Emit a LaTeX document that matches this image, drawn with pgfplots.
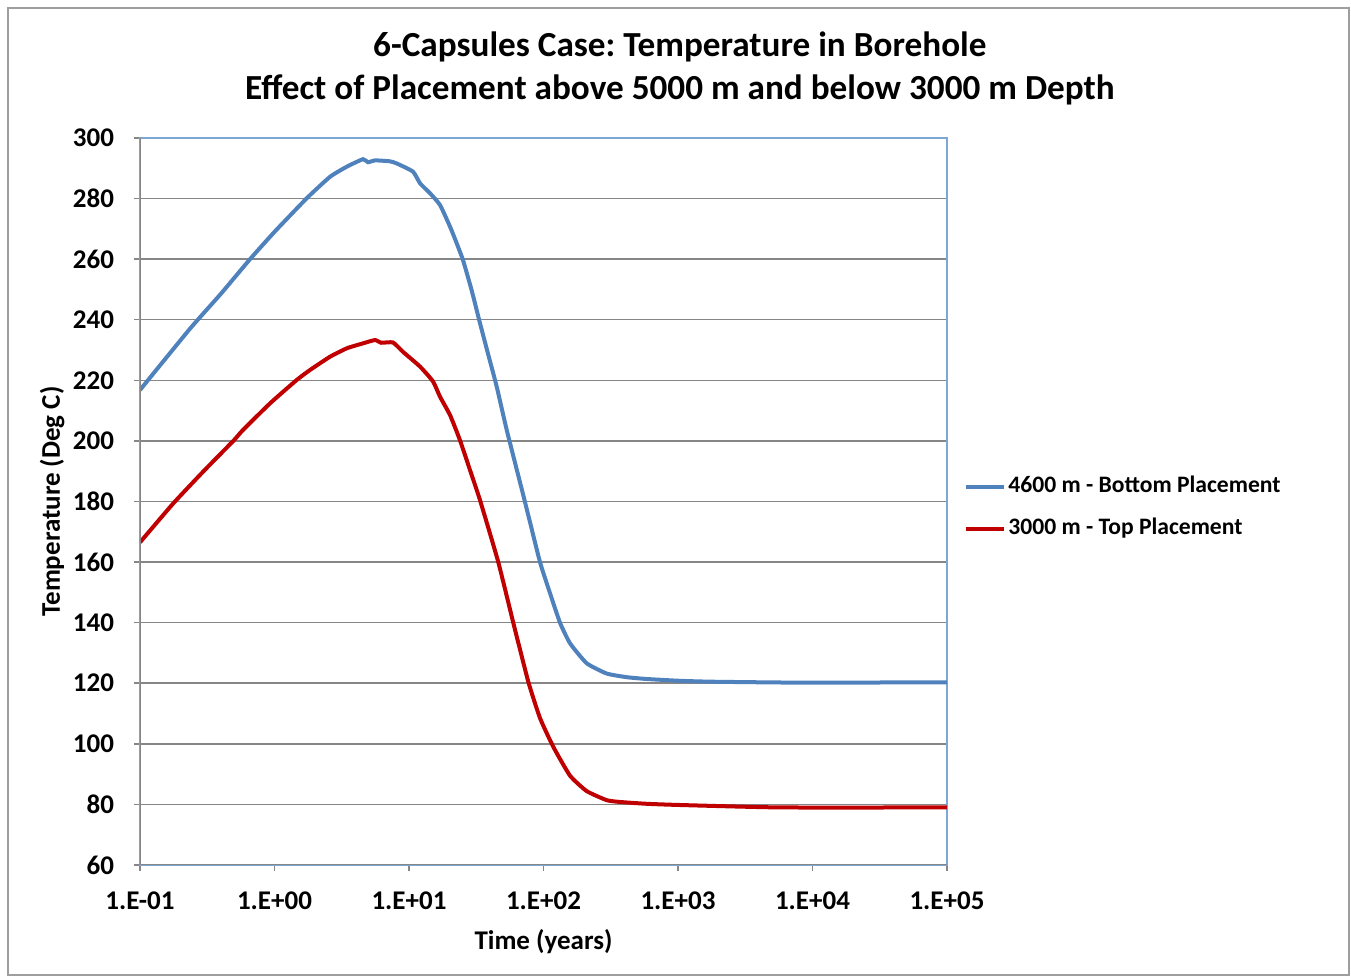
\documentclass[border=0pt]{standalone}
\usepackage{fontspec}
\setmainfont{Carlito}
\usepackage{pgfplots}
\pgfplotsset{compat=1.18}
\definecolor{serBlue}{HTML}{4F81BD}
\definecolor{serRed}{HTML}{C00000}
\definecolor{axGrey}{HTML}{868686}
\definecolor{boxBlue}{HTML}{7EA6D6}

\pgfplotstableread{
t T
0.1 216.8
0.235 237.0
0.4 248.6
0.658 260.0
1.0 269.0
1.746 280.2
2.59 287.2
3.44 290.5
4.55 293.0
4.96 292.0
5.6 292.6
7.22 292.3
8.1 291.6
10.7 288.9
12.1 285.0
14.3 281.8
17.0 277.9
20.2 270.7
22.6 265.3
25.2 259.7
29.2 249.8
33.7 238.9
38.9 228.4
44.9 217.9
53.3 203.6
72.8 179.9
94.2 160.0
111.7 149.8
132.6 140.0
157.4 133.2
209.4 126.6
295 123.2
415.6 122.0
585 121.4
1035 120.8
1820 120.5
8070 120.2
100000 120.3
}\bottomplace

\pgfplotstableread{
t T
0.1 166.5
0.177 179.4
0.3 190.2
0.494 200.0
0.583 203.6
0.927 212.4
1.462 220.1
1.836 223.4
2.59 227.8
3.46 230.6
4.55 232.2
5.59 233.3
6.2 232.4
7.6 232.5
9.02 229.4
12.1 224.5
15.1 219.6
17.0 214.6
20.2 208.5
23.9 200.3
28.4 190.4
33.7 180.5
46.1 160.0
59.6 140.0
77.1 120.5
94.2 108.5
118.3 99.0
157.4 89.5
209.4 84.4
295 81.4
370.7 80.8
585 80.2
1035 79.8
5730 79.0
100000 79.0
}\topplace

\begin{document}
\frenchspacing
\begin{tikzpicture}
\begin{axis}[
  name=ax,
  scale only axis,
  width=403.5pt, height=363.5pt,
  xmode=log,
  xmin=0.1, xmax=100000,
  ymin=60, ymax=300,
  xtick={0.1,1,10,100,1000,10000,100000},
  xticklabels={1.E-01,1.E+00,1.E+01,1.E+02,1.E+03,1.E+04,1.E+05},
  xminorticks=false,
  ytick={60,80,...,300},
  ymajorgrids,
  grid style={axGrey, line width=0.75pt},
  axis line style={boxBlue, line width=0.75pt},
  tick pos=left,
  tick align=outside,
  major tick length=3pt,
  tick style={axGrey, line width=0.75pt},
  /pgf/number format/assume math mode=true,
  ticklabel style={font=\fontsize{13.5}{16}\selectfont\bfseries},
  yticklabel style={xshift=-6.5pt},
  xticklabel style={yshift=-7pt},
  title={6-Capsules Case: Temperature in Borehole\\Effect of Placement above 5000 m and below 3000 m Depth},
  title style={at={(axis description cs:0.669,1.079)}, anchor=center, align=center,
    font=\fontsize{17.6}{21.5}\selectfont\bfseries},
  xlabel={Time (years)},
  xlabel style={at={(axis description cs:0.5,-0.106)}, anchor=center,
    font=\fontsize{13.5}{16}\selectfont\bfseries},
  ylabel={Temperature (Deg C)},
  ylabel style={at={(axis description cs:-0.109,0.5)}, anchor=center, rotate=0,
    font=\fontsize{13.5}{16}\selectfont\bfseries},
  legend cell align=left,
  legend style={at={(axis description cs:1.0211,0.4915)}, anchor=west,
    draw=none, fill=none, inner sep=0pt,
    font=\fontsize{11.8}{14}\selectfont\bfseries,
    nodes={inner xsep=1pt, inner ysep=0pt, text height=8.5pt, text depth=2.5pt},
    row sep=10pt},
  legend image code/.code={\draw[#1] (0pt,0pt) -- (19pt,0pt);},
]
\addplot[serBlue, line width=2pt, smooth, tension=0.3] table[x=t, y=T] {\bottomplace};
\addlegendentry{4600 m - Bottom Placement}
\addplot[serRed, line width=2pt, smooth, tension=0.3] table[x=t, y=T] {\topplace};
\addlegendentry{3000 m - Top Placement}
\draw[axGrey, line width=0.75pt] (rel axis cs:0,0) -- (rel axis cs:0,1);
\draw[axGrey, line width=0.75pt] (rel axis cs:0,0) -- (rel axis cs:1,0);
\end{axis}
\draw[axGrey!80, line width=0.6pt] ([shift={(-66pt,-55pt)}]ax.south west) rectangle ([shift={(604.5pt,428.5pt)}]ax.south west);
\pgfresetboundingbox
\path ([shift={(-70pt,-56pt)}]ax.south west) rectangle ([shift={(605.5pt,432.5pt)}]ax.south west);
\end{tikzpicture}
\end{document}
